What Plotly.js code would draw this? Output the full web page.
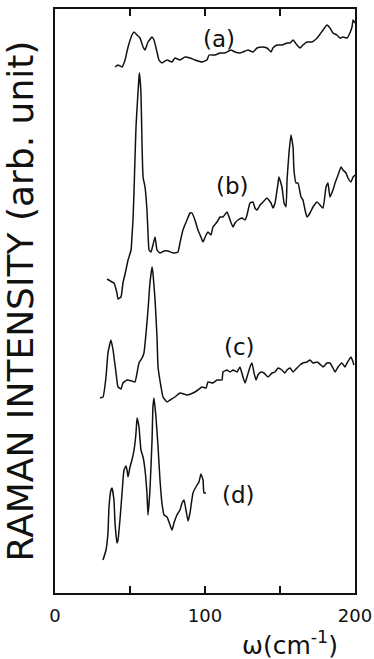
<!DOCTYPE html>
<html>
<head>
<meta charset="utf-8">
<script src="https://cdn.plot.ly/plotly-3.0.1.min.js"></script>
<style>
  html, body { margin: 0; padding: 0; background: #fff; }
  #chart { width: 374px; height: 659px; }
</style>
</head>
<body>
<div id="chart"></div>
<script>
// Raman shift ω (cm^-1) and intensity (arb. unit, offset stacks) for each spectrum
const omegaA = [40.0,42.0,44.7,46.7,48.7,51.3,52.7,54.7,56.7,58.7,60.0,62.0,64.7,66.0,68.0,69.3,71.3,74.7,78.0,80.0,83.3,86.7,90.0,93.3,98.0,101.3,102.7,106.7,110.0,113.3,117.3,120.0,123.3,125.3,128.7,132.0,134.7,138.0,141.3,144.0,145.3,148.0,151.3,154.7,156.7,158.7,161.3,163.3,165.3,168.0,171.3,173.3,175.3,178.7,181.3,183.3,185.3,188.0,190.0,192.0,194.7,196.0,198.0,198.7,200.0];
const intensityA = [526,528,526,533,546,558,561,558,555,546,543,551,556,553,541,533,530,533,531,535,533,536,535,533,531,533,538,538,540,540,543,541,540,541,543,541,545,546,545,541,545,548,548,550,550,553,548,545,548,551,551,553,556,563,568,565,560,558,555,556,555,558,566,573,570];

const omegaB = [34.7,38.0,39.3,41.3,42.0,44.0,45.3,47.3,48.7,50.7,51.3,52.0,52.7,53.3,54.0,55.3,56.0,56.3,57.3,58.0,58.7,60.0,61.3,62.0,62.7,64.0,65.3,66.7,68.0,70.0,72.7,75.3,78.7,82.0,83.3,85.3,88.0,90.0,91.3,93.3,95.3,97.3,98.7,100.7,102.0,104.0,105.3,108.0,110.0,112.0,114.7,116.7,118.7,120.0,122.0,124.7,126.7,128.0,130.0,132.0,133.3,134.7,136.7,138.7,141.3,144.0,145.3,146.7,148.7,149.3,151.3,152.7,154.0,154.7,156.0,157.3,158.7,159.3,160.7,162.0,164.0,165.3,166.7,168.0,170.0,172.0,174.7,176.7,178.7,180.7,182.0,183.3,185.3,186.7,188.7,190.7,192.0,194.0,195.3,197.3,198.7,200.0];
const intensityB = [314,311,310,300,294,296,310,323,333,343,356,373,403,433,466,500,516,520,500,450,416,406,383,360,343,341,348,356,343,340,342,342,340,341,350,363,373,380,380,373,363,356,351,358,361,358,366,371,376,376,381,373,366,370,373,375,373,378,390,391,385,383,388,391,395,390,385,390,410,416,406,390,386,413,440,458,446,423,410,410,396,393,383,376,380,386,391,388,385,406,410,396,403,410,418,426,423,420,415,411,416,418];

const omegaC = [30.0,32.0,34.0,35.3,37.3,38.7,40.7,42.0,44.0,45.3,48.0,51.3,53.3,54.7,56.0,58.0,59.3,60.7,62.0,63.3,64.7,65.3,66.7,68.0,68.7,70.7,72.0,74.7,76.7,80.0,83.3,88.0,92.0,95.3,98.0,100.7,102.0,105.3,108.0,111.3,112.0,114.7,116.7,118.7,121.3,123.3,125.3,126.7,128.0,130.0,131.3,132.7,134.0,135.3,137.3,139.3,142.0,144.7,146.7,148.7,151.3,153.3,154.7,156.7,158.7,161.3,163.3,165.3,168.0,170.0,172.0,174.7,177.3,178.7,181.3,183.3,185.3,186.7,188.7,191.3,193.3,194.7,197.3,198.7,199.3];
const intensityC = [195,196,216,240,253,243,220,206,204,210,213,212,211,220,230,235,240,260,283,310,326,320,293,256,226,206,196,191,193,196,200,198,200,203,206,205,211,210,213,213,221,223,221,223,221,226,216,210,216,226,230,220,213,218,221,220,216,220,221,225,223,220,223,225,221,225,228,230,231,233,230,231,228,226,230,230,225,221,226,230,226,230,236,231,228];

const omegaD = [32.0,34.0,35.3,36.0,37.3,38.0,39.3,40.0,41.3,42.0,43.3,44.7,46.0,47.3,48.0,48.7,50.0,51.3,52.7,54.0,54.7,56.0,57.3,58.7,60.0,61.3,62.0,63.3,64.7,65.3,66.0,67.3,68.7,70.0,71.3,72.7,74.7,76.0,78.0,79.3,81.3,83.3,84.7,86.0,87.3,88.7,90.0,92.0,94.7,96.0,97.3,98.7,99.3,100.7];
const intensityD = [33,43,60,86,103,105,93,70,50,53,73,100,123,127,123,116,126,133,143,160,175,166,143,136,123,100,78,103,153,186,195,176,146,113,90,78,76,71,63,70,78,83,90,93,83,72,80,100,108,111,119,113,100,100];

// Spectrum labels and where they sit (ω, intensity)
const labelText = ['(a)', '(b)', '(c)', '(d)'];
const labelOmega = [109.5, 118, 123.3, 122];
const labelIntensity = [554, 407, 246, 98];

// Axis ticks: labelled major ticks every 100, unlabelled minor ticks every 50
const majorStep = 100;
const minorStep = 50;

const lineStyle = { color: '#111', width: 1.5, shape: 'spline', smoothing: 0.4 };
const series = [
  [omegaA, intensityA],
  [omegaB, intensityB],
  [omegaC, intensityC],
  [omegaD, intensityD]
];
const traces = series.map((s, i) => ({
  x: s[0], y: s[1], type: 'scatter', mode: 'lines',
  name: labelText[i], line: lineStyle, hoverinfo: 'x+y'
}));

const annotations = labelText.map((t, i) => ({
  x: labelOmega[i], y: labelIntensity[i], xref: 'x', yref: 'y',
  text: t, showarrow: false,
  font: { family: 'DejaVu Sans', size: 23, color: '#111' }
}));
annotations.push({
  x: 0.783, y: -0.086, xref: 'paper', yref: 'paper',
  text: 'ω(cm<sup>-1</sup>)', showarrow: false,
  xanchor: 'center', yanchor: 'middle',
  font: { family: 'DejaVu Sans', size: 25, color: '#111' }
});

const layout = {
  width: 374, height: 659,
  margin: { l: 55, r: 19, t: 9, b: 66 },
  paper_bgcolor: '#fff', plot_bgcolor: '#fff',
  showlegend: false,
  font: { family: 'DejaVu Sans', color: '#111' },
  xaxis: {
    range: [0, 200], showgrid: false, zeroline: false,
    showline: true, linecolor: '#111', linewidth: 2, mirror: 'ticks',
    ticks: 'inside', ticklen: 7, tickwidth: 2, tickcolor: '#111',
    tickmode: 'linear', tick0: 0, dtick: majorStep,
    ticklabelstandoff: 5,
    tickfont: { family: 'DejaVu Sans', size: 18, color: '#111' },
    minor: { dtick: minorStep, tick0: 0, ticks: 'inside', ticklen: 7, tickwidth: 2, tickcolor: '#111', showgrid: false }
  },
  yaxis: {
    range: [0, 584], showgrid: false, zeroline: false,
    showline: true, linecolor: '#111', linewidth: 2, mirror: true,
    ticks: '', showticklabels: false,
    title: { text: 'RAMAN INTENSITY (arb. unit)', standoff: 8,
             font: { family: 'DejaVu Sans', size: 36, color: '#111' } }
  },
  annotations: annotations
};

Plotly.newPlot('chart', traces, layout, { displayModeBar: false, staticPlot: true });
</script>
</body>
</html>
